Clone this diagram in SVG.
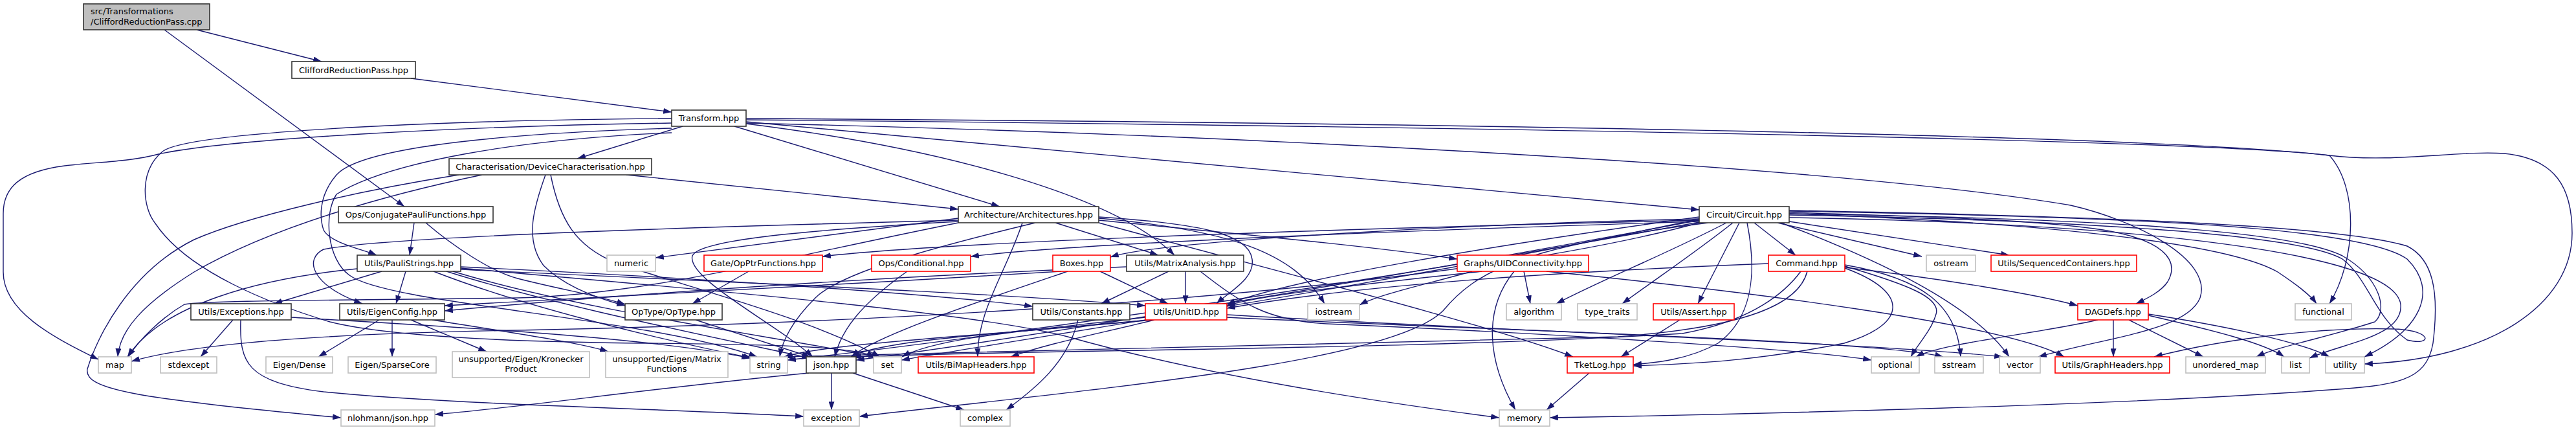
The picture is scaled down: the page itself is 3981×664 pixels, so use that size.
<svg xmlns="http://www.w3.org/2000/svg" width="3981" height="664" viewBox="0 0 3981 664">
<style>
.e{fill:none;stroke:#191970;stroke-width:1.4;marker-end:url(#a)}
rect{fill:#fff;stroke-width:1.6}
.b rect{stroke:#333}
.r rect{stroke:#ff0000}
.g rect{stroke:#bfbfbf}
.root rect{fill:#bfbfbf;stroke:#333}
text{font-family:"DejaVu Sans","Liberation Sans",sans-serif;font-size:13px;fill:#000;text-anchor:middle}
</style>
<defs>
<marker id="a" viewBox="0 0 10 7" refX="10" refY="3.5" markerWidth="13" markerHeight="9" markerUnits="userSpaceOnUse" orient="auto"><path d="M0,0 L10,3.5 L0,7 z" fill="#191970"/></marker>
</defs>
<rect x="0" y="0" width="3981" height="664" style="fill:#fff;stroke:none"/>
<g id="edges">
<path class="e" d="M304,46 L497,95"/>
<path class="e" d="M254,46 L625,319"/>
<path class="e" d="M635,121 L1038,173"/>
<path class="e" d="M1055,195 L892,245"/>
<path class="e" d="M1135,195 L1545,319"/>
<path class="e" d="M968,270 L1481,323"/>
<path class="e" d="M1153,188 L2626,324"/>
<path class="e" d="M1153,191 C1450,228 1720,300 1815,394"/>
<path class="e" d="M1153,183 C2000,188 3300,205 3600,240 C3645,290 3642,400 3600,469"/>
<path class="e" d="M1153,185 C2200,195 3400,215 3600,240 C3700,252 3800,232 3870,237 C3950,245 3975,290 3975,360 C3975,470 3850,555 3654,562"/>
<path class="e" d="M1153,190 C1800,205 2800,250 3200,317 C3300,340 3420,400 3400,460 C3380,510 3260,520 3150,551"/>
<path class="e" d="M1038,190 C700,195 350,215 245,238 C200,250 150,250 100,256 C30,265 5,290 5,330 L5,420 C5,480 80,520 152,555"/>
<path class="e" d="M1038,183 C650,186 280,205 250,235 C215,265 220,320 240,345 C290,420 420,470 510,497 C600,520 800,528 1000,530 C1200,532 1320,535 1352,551"/>
<path class="e" d="M1038,198 C800,205 560,225 520,270 C490,305 495,340 500,355 C510,375 560,385 582,394"/>
<path class="e" d="M1038,205 C800,215 600,250 520,300 C500,330 505,400 540,425 C600,470 1000,490 1170,551"/>
<path class="e" d="M745,270 C600,300 420,350 300,420 C220,470 185,510 182,551"/>
<path class="e" d="M709,270 C550,295 380,335 300,370 C200,420 150,520 135,570 C130,600 200,615 527,645"/>
<path class="e" d="M843,270 C825,320 810,370 840,410 C870,440 920,460 966,472"/>
<path class="e" d="M851,270 C865,340 890,380 950,405 C1050,440 1250,490 1360,551"/>
<path class="e" d="M640,344 L633,394"/>
<path class="e" d="M658,344 C700,380 760,420 800,430 C870,448 920,455 966,470"/>
<path class="e" d="M1481,337 L1013,398"/>
<path class="e" d="M1481,340 C1100,350 600,365 500,385 C470,400 480,440 560,469"/>
<path class="e" d="M1580,344 C1555,420 1510,480 1511,551"/>
<path class="e" d="M1481,342 C1250,355 1080,370 1070,395 C1060,430 1200,500 1256,551"/>
<path class="e" d="M1631,344 L1790,394"/>
<path class="e" d="M1698,335 C1850,345 1930,360 1935,400 C1940,430 1900,450 1880,469"/>
<path class="e" d="M1698,337 C1900,355 2000,390 2047,469"/>
<path class="e" d="M1698,340 C1900,360 2120,380 2252,400"/>
<path class="e" d="M1481,344 C1200,400 1000,455 800,460 C500,464 320,464 285,470 C250,490 215,525 198,551"/>
<path class="e" d="M1600,344 C1450,380 1300,420 1260,460 C1230,490 1210,520 1205,551"/>
<path class="e" d="M1698,344 C1900,400 2300,500 2431,551"/>
<path class="e" d="M2626,338 C2300,345 1800,370 1716,397"/>
<path class="e" d="M2626,340 C2200,350 1500,370 1271,396"/>
<path class="e" d="M2626,342 C2300,352 1700,372 1500,396"/>
<path class="e" d="M2711,344 L2775,394"/>
<path class="e" d="M2747,344 L2970,396"/>
<path class="e" d="M2765,342 L3105,394"/>
<path class="e" d="M2668,344 C2580,390 2480,430 2405,469"/>
<path class="e" d="M2678,344 C2620,390 2560,430 2507,469"/>
<path class="e" d="M2688,344 L2624,469"/>
<path class="e" d="M2700,344 C2715,420 2710,490 2655,530 C2610,555 2560,560 2524,563"/>
<path class="e" d="M2752,344 C2900,400 3050,470 3105,551"/>
<path class="e" d="M2765,328 C3000,335 3150,340 3250,355 C3340,370 3370,400 3350,435 C3340,450 3320,460 3301,469"/>
<path class="e" d="M2765,332 C3200,340 3550,360 3620,400 C3660,430 3670,490 3720,525 C3760,535 3760,510 3700,508 C3600,505 3450,520 3329,551"/>
<path class="e" d="M2765,330 C3300,338 3550,360 3620,395 C3680,430 3690,480 3670,497 C3600,520 3520,535 3487,551"/>
<path class="e" d="M2765,336 C3300,345 3700,390 3710,470 C3715,520 3620,530 3569,553"/>
<path class="e" d="M2765,326 C3300,335 3650,350 3720,400 C3770,450 3740,510 3654,551"/>
<path class="e" d="M2765,325 C3300,335 3620,350 3720,380 C3760,400 3770,450 3760,530 C3750,590 3700,595 3600,602 C3300,625 2700,640 2395,645"/>
<path class="e" d="M2765,330 C3200,345 3450,380 3520,420 C3550,440 3570,455 3580,469"/>
<path class="e" d="M2626,335 C2300,380 2000,430 1896,470"/>
<path class="e" d="M2626,340 C2200,420 1600,520 1323,556"/>
<path class="e" d="M2626,343 C2100,440 1500,525 1217,556"/>
<path class="e" d="M2626,338 C2200,430 1600,520 1393,556"/>
<path class="e" d="M2626,344 C2200,460 1300,500 800,510 C500,515 300,530 203,558"/>
<path class="e" d="M2640,344 C2350,380 2280,420 2230,480 C2150,560 1700,600 1328,643"/>
<path class="e" d="M2851,413 C3000,430 3150,455 3211,472"/>
<path class="e" d="M2733,407 C2400,420 2100,440 1896,476"/>
<path class="e" d="M2851,411 C2950,440 3000,460 2992,485 C2985,510 2965,530 2953,551"/>
<path class="e" d="M2851,409 C2970,430 3025,470 3030,551"/>
<path class="e" d="M2851,414 C2950,450 2950,500 2850,530 C2700,560 2600,562 2524,565"/>
<path class="e" d="M2783,419 C2760,450 2710,495 2600,515 C2200,540 1600,540 1318,551"/>
<path class="e" d="M2793,419 C2780,470 2700,505 2500,520 C2000,535 1500,540 1212,551"/>
<path class="e" d="M3266,494 L3266,551"/>
<path class="e" d="M3290,494 L3405,551"/>
<path class="e" d="M3320,487 C3420,510 3500,530 3530,551"/>
<path class="e" d="M3320,485 C3450,505 3560,530 3600,551"/>
<path class="e" d="M3242,494 C3150,515 3000,530 2961,551"/>
<path class="e" d="M2290,419 C2100,440 1950,455 1896,472"/>
<path class="e" d="M2275,419 C2200,440 2130,455 2101,471"/>
<path class="e" d="M2355,419 L2365,469"/>
<path class="e" d="M2340,419 C2290,480 2300,560 2342,633"/>
<path class="e" d="M2390,419 C2700,450 3100,500 3190,551"/>
<path class="e" d="M1770,490 C1600,510 1450,520 1394,551"/>
<path class="e" d="M1775,494 C1550,515 1360,525 1315,551"/>
<path class="e" d="M1780,494 C1500,520 1280,530 1212,551"/>
<path class="e" d="M1784,494 C1700,515 1620,530 1562,551"/>
<path class="e" d="M1896,486 C2300,510 2900,530 3095,551"/>
<path class="e" d="M1896,490 C2300,510 2900,525 3003,551"/>
<path class="e" d="M1700,419 L1805,469"/>
<path class="e" d="M1640,419 C1300,440 900,460 687,472"/>
<path class="e" d="M1650,419 C1500,470 1350,520 1316,551"/>
<path class="e" d="M1806,419 L1702,469"/>
<path class="e" d="M1832,419 L1832,469"/>
<path class="e" d="M1741,412 C1300,430 900,460 687,480"/>
<path class="e" d="M1855,419 C1920,470 1960,495 2050,500 C2400,515 2800,540 2892,556"/>
<path class="e" d="M1666,494 C1650,560 1600,600 1555,633"/>
<path class="e" d="M1250,576 C1000,600 800,630 672,640"/>
<path class="e" d="M1285,576 L1285,633"/>
<path class="e" d="M1318,576 L1490,633"/>
<path class="e" d="M360,494 L310,551"/>
<path class="e" d="M372,494 C370,560 380,590 500,605 C700,625 1000,630 1242,643"/>
<path class="e" d="M450,490 C700,505 1000,520 1159,553"/>
<path class="e" d="M586,494 L492,551"/>
<path class="e" d="M606,494 L606,551"/>
<path class="e" d="M635,494 L752,543"/>
<path class="e" d="M668,494 C800,515 900,530 940,543"/>
<path class="e" d="M1075,494 L1252,551"/>
<path class="e" d="M1157,419 L1070,469"/>
<path class="e" d="M1402,419 C1330,470 1300,510 1290,551"/>
<path class="e" d="M2596,494 L2505,551"/>
<path class="e" d="M2456,576 L2390,633"/>
<path class="e" d="M712,412 C1100,430 1450,455 1596,473"/>
<path class="e" d="M712,416 C1100,435 1500,450 1770,472"/>
<path class="e" d="M690,419 C850,470 1100,520 1252,553"/>
<path class="e" d="M670,419 C800,470 1000,520 1162,553"/>
<path class="e" d="M552,415 C400,430 250,470 197,551"/>
<path class="e" d="M700,419 C900,480 1200,520 1355,551"/>
<path class="e" d="M627,419 L612,469"/>
<path class="e" d="M590,419 L423,469"/>
<path class="e" d="M712,414 C1000,440 1500,480 1650,520 C1900,590 2200,630 2317,645"/>
</g>
<g id="n-root" class="root"><rect x="129" y="6" width="195" height="40"/><text x="140" y="22" style="text-anchor:start">src/Transformations</text><text x="140" y="38" style="text-anchor:start">/CliffordReductionPass.cpp</text></g>
<g id="n-crp" class="b"><rect x="451" y="95" width="191" height="26"/><text x="546.5" y="112.5">CliffordReductionPass.hpp</text></g>
<g id="n-transform" class="b"><rect x="1038" y="170" width="115" height="25"/><text x="1095.5" y="187">Transform.hpp</text></g>
<g id="n-char" class="b"><rect x="694" y="245" width="313" height="25"/><text x="850.5" y="262">Characterisation/DeviceCharacterisation.hpp</text></g>
<g id="n-opsconj" class="b"><rect x="523" y="319" width="239" height="25"/><text x="642.5" y="336">Ops/ConjugatePauliFunctions.hpp</text></g>
<g id="n-arch" class="b"><rect x="1481" y="319" width="217" height="25"/><text x="1589.5" y="336">Architecture/Architectures.hpp</text></g>
<g id="n-circuit" class="b"><rect x="2626" y="319" width="139" height="25"/><text x="2695.5" y="336">Circuit/Circuit.hpp</text></g>
<g id="n-pauli" class="b"><rect x="552" y="394" width="160" height="25"/><text x="632" y="411">Utils/PauliStrings.hpp</text></g>
<g id="n-numeric" class="g"><rect x="938" y="394" width="75" height="25"/><text x="975.5" y="411">numeric</text></g>
<g id="n-opptr" class="r"><rect x="1088" y="394" width="183" height="25"/><text x="1179.5" y="411">Gate/OpPtrFunctions.hpp</text></g>
<g id="n-cond" class="r"><rect x="1347" y="394" width="153" height="25"/><text x="1423.5" y="411">Ops/Conditional.hpp</text></g>
<g id="n-boxes" class="r"><rect x="1627" y="394" width="89" height="25"/><text x="1671.5" y="411">Boxes.hpp</text></g>
<g id="n-matrix" class="b"><rect x="1741" y="394" width="181" height="25"/><text x="1831.5" y="411">Utils/MatrixAnalysis.hpp</text></g>
<g id="n-uidconn" class="r"><rect x="2252" y="394" width="203" height="25"/><text x="2353.5" y="411">Graphs/UIDConnectivity.hpp</text></g>
<g id="n-command" class="r"><rect x="2733" y="394" width="118" height="25"/><text x="2792" y="411">Command.hpp</text></g>
<g id="n-ostream" class="g"><rect x="2977" y="394" width="76" height="25"/><text x="3015" y="411">ostream</text></g>
<g id="n-seqcont" class="r"><rect x="3077" y="394" width="225" height="25"/><text x="3189.5" y="411">Utils/SequencedContainers.hpp</text></g>
<g id="n-exceptions" class="b"><rect x="295" y="469" width="155" height="25"/><text x="372.5" y="486">Utils/Exceptions.hpp</text></g>
<g id="n-eigenconfig" class="b"><rect x="525" y="469" width="162" height="25"/><text x="606" y="486">Utils/EigenConfig.hpp</text></g>
<g id="n-optype" class="b"><rect x="966" y="469" width="150" height="25"/><text x="1041" y="486">OpType/OpType.hpp</text></g>
<g id="n-constants" class="b"><rect x="1596" y="469" width="150" height="25"/><text x="1671" y="486">Utils/Constants.hpp</text></g>
<g id="n-unitid" class="r"><rect x="1770" y="469" width="126" height="25"/><text x="1833" y="486">Utils/UnitID.hpp</text></g>
<g id="n-iostream" class="g"><rect x="2021" y="469" width="80" height="25"/><text x="2061" y="486">iostream</text></g>
<g id="n-algorithm" class="g"><rect x="2328" y="469" width="85" height="25"/><text x="2370.5" y="486">algorithm</text></g>
<g id="n-typetraits" class="g"><rect x="2438" y="469" width="92" height="25"/><text x="2484" y="486">type_traits</text></g>
<g id="n-assert" class="r"><rect x="2555" y="469" width="125" height="25"/><text x="2617.5" y="486">Utils/Assert.hpp</text></g>
<g id="n-dagdefs" class="r"><rect x="3211" y="469" width="109" height="25"/><text x="3265.5" y="486">DAGDefs.hpp</text></g>
<g id="n-functional" class="g"><rect x="3547" y="469" width="87" height="25"/><text x="3590.5" y="486">functional</text></g>
<g id="n-map" class="g"><rect x="152" y="551" width="51" height="25"/><text x="177.5" y="568">map</text></g>
<g id="n-stdexcept" class="g"><rect x="248" y="551" width="87" height="25"/><text x="291.5" y="568">stdexcept</text></g>
<g id="n-dense" class="g"><rect x="411" y="551" width="103" height="25"/><text x="462.5" y="568">Eigen/Dense</text></g>
<g id="n-sparse" class="g"><rect x="538" y="551" width="136" height="25"/><text x="606" y="568">Eigen/SparseCore</text></g>
<g id="n-kron" class="g"><rect x="699" y="543" width="212" height="40"/><text x="805" y="559">unsupported/Eigen/Kronecker</text><text x="805" y="574">Product</text></g>
<g id="n-matfun" class="g"><rect x="936" y="543" width="189" height="40"/><text x="1030.5" y="559">unsupported/Eigen/Matrix</text><text x="1030.5" y="574">Functions</text></g>
<g id="n-string" class="g"><rect x="1159" y="551" width="58" height="25"/><text x="1188" y="568">string</text></g>
<g id="n-json" class="b"><rect x="1246" y="551" width="77" height="25"/><text x="1284.5" y="568">json.hpp</text></g>
<g id="n-set" class="g"><rect x="1350" y="551" width="43" height="25"/><text x="1371.5" y="568">set</text></g>
<g id="n-bimap" class="r"><rect x="1419" y="551" width="179" height="25"/><text x="1508.5" y="568">Utils/BiMapHeaders.hpp</text></g>
<g id="n-tketlog" class="r"><rect x="2422" y="551" width="102" height="25"/><text x="2473" y="568">TketLog.hpp</text></g>
<g id="n-optional" class="g"><rect x="2892" y="551" width="74" height="25"/><text x="2929" y="568">optional</text></g>
<g id="n-sstream" class="g"><rect x="2990" y="551" width="75" height="25"/><text x="3027.5" y="568">sstream</text></g>
<g id="n-vector" class="g"><rect x="3090" y="551" width="63" height="25"/><text x="3121.5" y="568">vector</text></g>
<g id="n-graphheaders" class="r"><rect x="3176" y="551" width="177" height="25"/><text x="3264.5" y="568">Utils/GraphHeaders.hpp</text></g>
<g id="n-unorderedmap" class="g"><rect x="3378" y="551" width="123" height="25"/><text x="3439.5" y="568">unordered_map</text></g>
<g id="n-list" class="g"><rect x="3526" y="551" width="43" height="25"/><text x="3547.5" y="568">list</text></g>
<g id="n-utility" class="g"><rect x="3594" y="551" width="60" height="25"/><text x="3624" y="568">utility</text></g>
<g id="n-nlohmann" class="g"><rect x="527" y="633" width="145" height="25"/><text x="599.5" y="650">nlohmann/json.hpp</text></g>
<g id="n-exception" class="g"><rect x="1242" y="633" width="86" height="25"/><text x="1285" y="650">exception</text></g>
<g id="n-complex" class="g"><rect x="1484" y="633" width="77" height="25"/><text x="1522.5" y="650">complex</text></g>
<g id="n-memory" class="g"><rect x="2317" y="633" width="78" height="25"/><text x="2356" y="650">memory</text></g>
</svg>
